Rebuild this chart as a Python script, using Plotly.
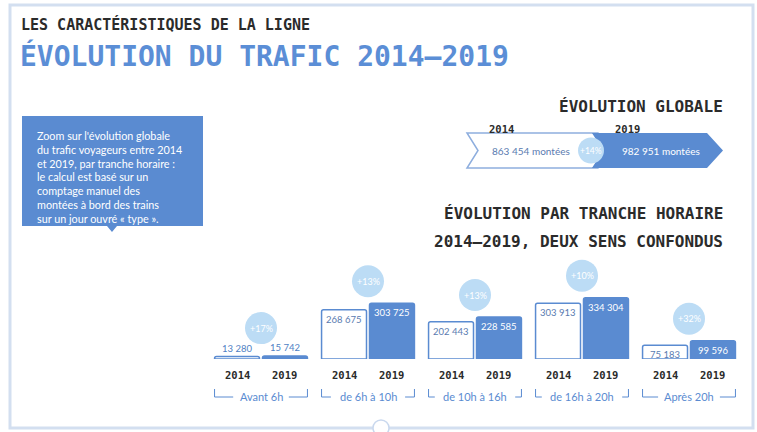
import plotly.graph_objects as go

W, H = 757, 432


def px(x):
    return x / W


def py(y):
    return 1 - y / H


# ---------------- data ----------------
categories = ["Avant 6h", "de 6h à 10h", "de 10h à 16h", "de 16h à 20h", "Après 20h"]
years = ["2014", "2019"]
values_2014 = [13280, 268675, 202443, 303913, 75183]
values_2019 = [15742, 303725, 228585, 334304, 99596]
growth_labels = ["+17%", "+13%", "+13%", "+10%", "+32%"]
total_2014 = 863454
total_2019 = 982951
total_growth = "+14%"

BLUE = "#5a8bd1"
LIGHT = "#bcdcf5"
DARK = "#2b2b2b"
MONO = "DejaVu Sans Mono"
SANS = "Lato"


def fmt(v):
    return f"{v:,}".replace(",", " ")


fig = go.Figure()

offsets = [-0.224, 0.224]
bar_w = 0.42
series = [values_2014, values_2019]
for s, (yr, vals) in enumerate(zip(years, series)):
    fig.add_trace(go.Bar(
        x=[i + offsets[s] for i in range(len(categories))],
        y=vals,
        width=bar_w,
        name=yr,
        marker=dict(color="white" if s == 0 else BLUE,
                    line=dict(color=BLUE, width=1.5),
                    cornerradius=2),
        hoverinfo="skip",
        showlegend=False,
    ))

annotations = []
shapes = []

# value labels + year labels under bars
for s, vals in enumerate(series):
    for i, v in enumerate(vals):
        x = i + offsets[s]
        outside = v < 40000
        if outside:
            annotations.append(dict(x=x, y=v, xref="x", yref="y", text=fmt(v),
                                    showarrow=False, xanchor="center", yanchor="bottom", yshift=1,
                                    font=dict(family=SANS, size=9.5, color="#4f7fc4")))
        else:
            annotations.append(dict(x=x, y=v, xref="x", yref="y", text=fmt(v),
                                    showarrow=False, xanchor="center", yanchor="top", yshift=-2,
                                    font=dict(family=SANS, size=9.5,
                                              color="#5a7bb0" if s == 0 else "white")))
        annotations.append(dict(x=x, y=py(375), xref="x", yref="paper",
                                text=f"<b>{years[s]}</b>", showarrow=False,
                                xanchor="center", yanchor="middle",
                                font=dict(family=MONO, size=10.5, color=DARK)))

# growth bubbles
for i in range(len(categories)):
    top = max(values_2014[i], values_2019[i])
    off = 22 + (6 if min(values_2014[i], values_2019[i]) < 40000 else 0)
    shapes.append(dict(type="circle", xref="x", yref="y", xsizemode="pixel",
                       ysizemode="pixel", xanchor=i, yanchor=top,
                       x0=-16, x1=16, y0=off - 16, y1=off + 16,
                       fillcolor=LIGHT, line=dict(width=0)))
    annotations.append(dict(x=i, y=top, xref="x", yref="y", yshift=off,
                            text=growth_labels[i], showarrow=False,
                            xanchor="center", yanchor="middle",
                            font=dict(family=SANS, size=9, color="white")))

# brackets with category names
unit = 107.0
edge = 0.434
for i, c in enumerate(categories):
    half = (len(c) * 6.2 / 2 + 3) / unit
    yl_top, yl_bot = py(389), py(397)
    for x_edge, x_in in [(i - edge, i - half), (i + edge, i + half)]:
        shapes.append(dict(type="line", xref="x", yref="paper", x0=x_edge, x1=x_edge,
                           y0=yl_top, y1=yl_bot, line=dict(color=BLUE, width=1)))
        shapes.append(dict(type="line", xref="x", yref="paper", x0=x_edge, x1=x_in,
                           y0=yl_bot, y1=yl_bot, line=dict(color=BLUE, width=1)))
    annotations.append(dict(x=i, y=py(396), xref="x", yref="paper", text=c,
                            showarrow=False, xanchor="center", yanchor="middle",
                            font=dict(family=SANS, size=11, color=BLUE)))


def path(pts):
    return "M " + " L ".join(f"{px(a):.5f},{py(b):.5f}" for a, b in pts) + " Z"


# frame
shapes.append(dict(type="rect", xref="paper", yref="paper", x0=px(10), x1=px(753),
                   y0=py(428), y1=py(5), line=dict(color="#d3dff0", width=3),
                   fillcolor="rgba(0,0,0,0)", layer="below"))
shapes.append(dict(type="circle", xref="paper", yref="paper", x0=px(373), x1=px(389),
                   y0=py(436), y1=py(420), fillcolor="white",
                   line=dict(color="#c9d8ee", width=1.5)))

# callout box
shapes.append(dict(type="path", xref="paper", yref="paper",
                   path=path([(22, 116), (203, 116), (203, 226), (117, 226),
                              (112, 232), (107, 226), (22, 226)]),
                   fillcolor=BLUE, line=dict(width=0)))
annotations.append(dict(x=px(35), y=py(149), xref="paper", yref="paper",
                        xanchor="left", yanchor="middle", align="left", showarrow=False,
                        text="Zoom sur l'évolution globale<br>du trafic voyageurs entre 2014<br>et 2019, par tranche horaire :",
                        font=dict(family=SANS, size=10.8, color="white")))
annotations.append(dict(x=px(35), y=py(198), xref="paper", yref="paper",
                        xanchor="left", yanchor="middle", align="left", showarrow=False,
                        text="le calcul est basé sur un<br>comptage manuel des<br>montées à bord des trains<br>sur un jour ouvré « type ».",
                        font=dict(family=SANS, size=10.8, color="white")))

# global evolution arrows
shapes.append(dict(type="path", xref="paper", yref="paper",
                   path=path([(467, 133), (598, 133), (611, 150.5), (598, 168),
                              (467, 168), (478, 150.5)]),
                   fillcolor="white", line=dict(color="#8eaede", width=1.5)))
shapes.append(dict(type="path", xref="paper", yref="paper",
                   path=path([(592, 133), (707, 133), (723, 150.5), (707, 168),
                              (592, 168), (603, 150.5)]),
                   fillcolor=BLUE, line=dict(width=0)))
shapes.append(dict(type="circle", xref="paper", yref="paper", x0=px(578), x1=px(604),
                   y0=py(163.5), y1=py(137.5), fillcolor=LIGHT, line=dict(width=0)))
annotations += [
    dict(x=px(591), y=py(150.5), text=total_growth,
         font=dict(family=SANS, size=8.5, color="white")),
    dict(x=px(531), y=py(150.5), text=f"{fmt(total_2014)} montées",
         font=dict(family=SANS, size=10, color="#5a7bb0")),
    dict(x=px(661), y=py(150.5), text=f"{fmt(total_2019)} montées",
         font=dict(family=SANS, size=10, color="white")),
    dict(x=px(501), y=py(129), text=f"<b>{years[0]}</b>",
         font=dict(family=MONO, size=10.5, color=DARK)),
    dict(x=px(627), y=py(129), text=f"<b>{years[1]}</b>",
         font=dict(family=MONO, size=10.5, color=DARK)),
]
for a in annotations[-5:]:
    a.update(xref="paper", yref="paper", showarrow=False, xanchor="center", yanchor="middle")

# titles
annotations += [
    dict(x=px(19), y=py(24), xanchor="left", text="<b>LES CARACTÉRISTIQUES DE LA LIGNE</b>",
         font=dict(family=MONO, size=15, color=DARK)),
    dict(x=px(18), y=py(56), xanchor="left", text="<b>ÉVOLUTION DU TRAFIC 2014–2019</b>",
         font=dict(family=MONO, size=28, color="#5b8ed6")),
    dict(x=px(725), y=py(107), xanchor="right", text="<b>ÉVOLUTION GLOBALE</b>",
         font=dict(family=MONO, size=16, color=DARK)),
    dict(x=px(725), y=py(213), xanchor="right", text="<b>ÉVOLUTION PAR TRANCHE HORAIRE</b>",
         font=dict(family=MONO, size=16, color=DARK)),
    dict(x=px(725), y=py(241), xanchor="right", text="<b>2014–2019, DEUX SENS CONFONDUS</b>",
         font=dict(family=MONO, size=16, color=DARK)),
]
for a in annotations[-5:]:
    a.update(xref="paper", yref="paper", showarrow=False, yanchor="middle")

fig.update_layout(
    width=W, height=H,
    margin=dict(l=0, r=0, t=0, b=0),
    paper_bgcolor="white", plot_bgcolor="white",
    xaxis=dict(domain=[207.5 / W, 742.5 / W], range=[-0.5, 4.5], visible=False,
               fixedrange=True),
    yaxis=dict(domain=[py(359), py(250)], range=[0, 594050], visible=False,
               fixedrange=True),
    barmode="overlay",
    shapes=shapes,
    annotations=annotations,
    showlegend=False,
)

fig.write_html("out.html", config={"displayModeBar": False},
               post_script="document.body.style.margin='0';document.body.style.overflow='hidden';")
